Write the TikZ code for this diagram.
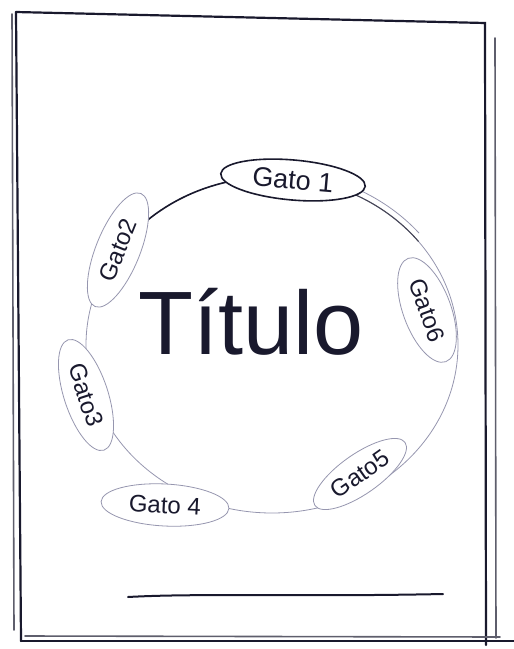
\documentclass[tikz,border=0pt]{standalone}
\usepackage{fontspec}
\setmainfont{Liberation Sans}
\usetikzlibrary{shapes.geometric}
\definecolor{ink}{RGB}{25,25,45}
\definecolor{pencil}{RGB}{150,150,175}
\tikzset{
  frameline/.style={draw=ink, line width=2.2pt, line cap=round},
  framefaint/.style={draw=ink!70, line width=1.6pt, line cap=round},
  ring/.style={draw=pencil, line width=0.8pt},
  ringdark/.style={draw=ink, line width=1.6pt, line cap=round},
  gato/.style={ellipse, draw=pencil, line width=0.8pt, fill=white, inner sep=1pt,
    font=\fontsize{24}{26}\selectfont, text=ink},
  gatomain/.style={gato, draw=ink, line width=1.6pt, font=\fontsize{27}{29}\selectfont},
  titulo/.style={font=\fontsize{90}{96}\selectfont, text=ink, inner sep=0pt}
}
\begin{document}
\begin{tikzpicture}[x=1pt,y=-1pt]
\useasboundingbox (0,0) rectangle (514,649);
% frame
\coordinate (tl) at (16,12);
\coordinate (tr) at (485,23);
\coordinate (br) at (486,645);
\coordinate (bl) at (21,641);
\draw[frameline] (tl) -- (tr) -- (br);
\draw[frameline] (tl) -- (bl);
\draw[frameline] (bl) -- (514,641);
\draw[framefaint] (12,14) -- (14,630);
\draw[framefaint] (495,38) -- (496,638);
\draw[framefaint] (25,636) -- (500,637);
% ring
\coordinate (c) at (272,345);
\draw[ring] (c) ellipse[x radius=186, y radius=168];
\draw[ringdark] (c) ++(-135:186 and 168) arc[start angle=-135, end angle=-98, x radius=186, y radius=168];
\draw[ring, draw=ink!80, line width=1.1pt] (c) ++(-70:186 and 168) arc[start angle=-70, end angle=-38, x radius=186, y radius=168];
\draw[ring] (c) ++(-72:192 and 174) arc[start angle=-72, end angle=-40, x radius=192, y radius=174];
% title
\node[titulo] (title) at (251,322) {Título};
% cats
\node[gatomain, minimum width=145pt, minimum height=40pt, rotate=-5] (g1) at (293,180) {Gato 1};
\node[gato, minimum width=122pt, minimum height=44pt, rotate=68] (g2) at (118,250) {Gato2};
\node[gato, minimum width=116pt, minimum height=44pt, rotate=-72] (g3) at (86,395) {Gato3};
\node[gato, minimum width=128pt, minimum height=42pt, rotate=-3] (g4) at (165,505) {Gato 4};
\node[gato, minimum width=110pt, minimum height=40pt, rotate=35] (g5) at (360,474) {Gato5};
\node[gato, minimum width=110pt, minimum height=48pt, rotate=-70] (g6) at (427,310) {Gato6};
% bottom line
\coordinate (l1) at (128,597);
\coordinate (l2) at (443,594);
\draw[ringdark, line width=2pt] (l1) .. controls (200,593) and (300,597) .. (l2);
\end{tikzpicture}
\end{document}
